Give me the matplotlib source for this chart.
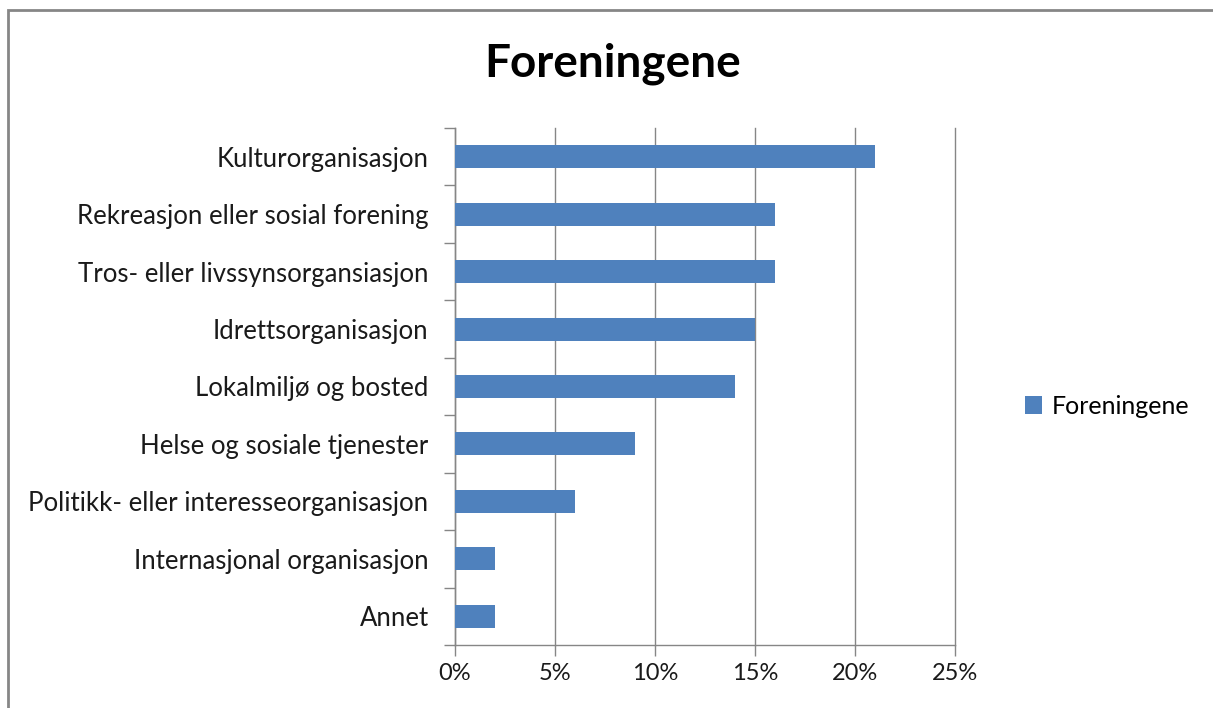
import numpy as np
import matplotlib.pyplot as plt
from matplotlib.patches import Rectangle, Patch
from matplotlib.ticker import FuncFormatter, FixedLocator

# Data (percent)
categories = [
    "Kulturorganisasjon",
    "Rekreasjon eller sosial forening",
    "Tros- eller livssynsorgansiasjon",
    "Idrettsorganisasjon",
    "Lokalmiljø og bosted",
    "Helse og sosiale tjenester",
    "Politikk- eller interesseorganisasjon",
    "Internasjonal organisasjon",
    "Annet",
]
values = [21, 16, 16, 15, 14, 9, 6, 2, 2]
x_ticks = [0, 5, 10, 15, 20, 25]

bar_color = "#4F81BD"
grid_color = "#868686"
text_color = "#1a1a1a"
plt.rcParams['font.family'] = ['Lato', 'DejaVu Sans']

fig = plt.figure(figsize=(12.13, 7.08), dpi=100)
ax = fig.add_axes([455 / 1213, 63 / 708, 500 / 1213, 517 / 708])

n = len(categories)
y = np.arange(n)
ax.barh(y, values, height=0.4, color=bar_color, zorder=3)

ax.set_ylim(n - 0.5, -0.5)
ax.set_xlim(0, 25)

# category labels in the middle, tick marks on the boundaries
ax.set_yticks(y)
ax.set_yticklabels(categories, fontsize=18.5, color=text_color)
ax.tick_params(axis='y', which='major', length=0, pad=19)
ax.yaxis.set_minor_locator(FixedLocator(np.arange(-0.5, n, 1.0)))
ax.tick_params(axis='y', which='minor', length=8, color=grid_color, width=1)

ax.set_xticks(x_ticks)
ax.xaxis.set_major_formatter(FuncFormatter(lambda v, p: f"{v:.0f}%"))
ax.tick_params(axis='x', length=8, color=grid_color, width=1, labelsize=17,
               labelcolor=text_color, pad=5)

ax.grid(axis='x', color=grid_color, linewidth=1, zorder=0)
for gl in ax.get_xgridlines():
    gl.set_clip_on(False)
for side in ['top', 'right']:
    ax.spines[side].set_visible(False)
for side in ['left', 'bottom']:
    ax.spines[side].set_color(grid_color)
    ax.spines[side].set_linewidth(1)

fig.text(613 / 1213, 1 - 64 / 708, "Foreningene", ha='center', va='center',
         fontsize=33, fontweight='bold', color="black")

handle = Patch(facecolor=bar_color, edgecolor='none')
fig.legend([handle], ["Foreningene"], loc='center left',
           bbox_to_anchor=(1002 / 1213, 1 - 406 / 708), frameon=False,
           fontsize=18, handlelength=0.7, handleheight=0.7, handletextpad=0.4)

# chart area border (cut off at right and bottom in the original)
fig.patches.append(Rectangle((8 / 1213, -0.05), 1.1, 1 - 10 / 708 + 0.05,
                             transform=fig.transFigure, fill=False,
                             edgecolor=grid_color, linewidth=2))

fig.savefig("out.png", dpi=100)
